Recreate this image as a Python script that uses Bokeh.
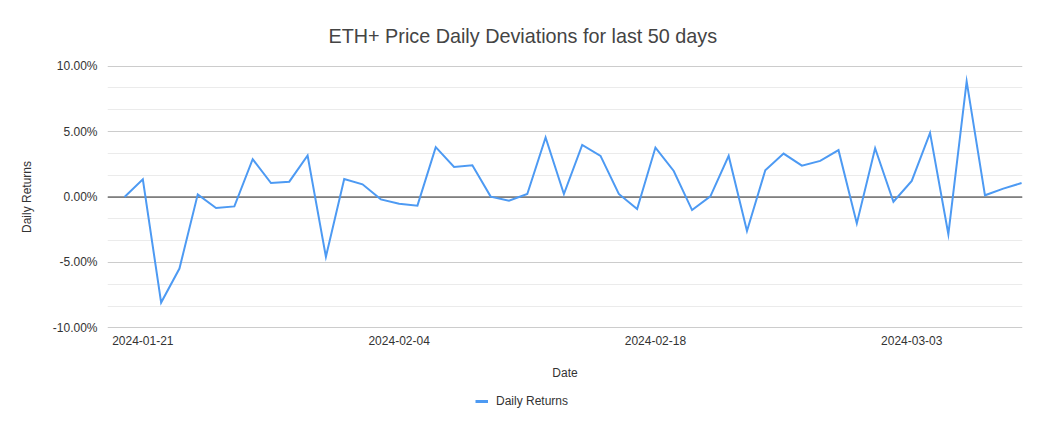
import pandas as pd
from bokeh.plotting import figure
from bokeh.layouts import column
from bokeh.models import (FixedTicker, DatetimeTickFormatter, PrintfTickFormatter, Span,
                          Legend, LegendItem, Range1d, ColumnDataSource)
from bokeh.embed import file_html
from bokeh.resources import INLINE

# ---------------- data ----------------
start_date = "2024-01-20"
returns_pct = [0.00, 1.35, -8.07, -5.47, 0.20, -0.84, -0.72, 2.89, 1.07, 1.17,
               3.17, -4.57, 1.38, 0.97, -0.18, -0.51, -0.66, 3.81, 2.30, 2.43,
               0.03, -0.28, 0.23, 4.55, 0.23, 3.98, 3.14, 0.23, -0.92, 3.78,
               1.99, -1.00, 0.05, 3.14, -2.60, 2.04, 3.32, 2.40, 2.76, 3.58,
               -2.02, 3.73, -0.36, 1.23, 4.90, -2.84, 8.84, 0.13, 0.64, 1.07]
x_tick_dates = ["2024-01-21", "2024-02-04", "2024-02-18", "2024-03-03"]
y_major_ticks = [-10, -5, 0, 5, 10]
title_text = "ETH+ Price Daily Deviations for last 50 days"
x_title = "Date"
y_title = "Daily Returns"
series_name = "Daily Returns"

dates = pd.date_range(start_date, periods=len(returns_pct), freq="D")
src = ColumnDataSource(dict(date=dates, ret=returns_pct))

# ---------------- layout ----------------
W = 1045
H1, H2 = 384, 45
BL, BR, BT = 107, 23, 65
FH = 263
BB = H1 - BT - FH
DAY = 86400000.0
ms0 = dates[0].value / 1e6
ms1 = dates[-1].value / 1e6
x_start = ms0 - 0.93 * DAY
x_end = ms1 + 0.05 * DAY
y_lo, y_hi = -10.05, 10.05

LINE_C = "#4d9af3"
FONT = "Liberation Sans"
TXT = "#333333"

p = figure(width=W, height=H1, x_axis_type="datetime", output_backend="svg",
           toolbar_location=None,
           x_range=Range1d(x_start, x_end), y_range=Range1d(y_lo, y_hi),
           min_border_left=BL, min_border_right=BR, min_border_top=BT, min_border_bottom=BB)
p.outline_line_color = None
p.background_fill_color = "white"
p.border_fill_color = "white"

# title
p.title.text = title_text
p.title.align = "left"
p.title.offset = 221
p.title.standoff = 38
p.title.text_font = FONT
p.title.text_font_size = "19.8px"
p.title.text_font_style = "normal"
p.title.text_color = "#444444"

# grid
minor = []
for a, b in zip(y_major_ticks[:-1], y_major_ticks[1:]):
    minor += [a + (b - a) / 3, a + 2 * (b - a) / 3]
yt = FixedTicker(ticks=y_major_ticks, minor_ticks=minor)
p.yaxis.ticker = yt
p.ygrid.ticker = yt
p.ygrid.grid_line_color = "#cccccc"
p.ygrid.grid_line_width = 1
p.ygrid.minor_grid_line_color = "#ebebeb"
p.ygrid.minor_grid_line_width = 1
p.xgrid.grid_line_color = None

xt = FixedTicker(ticks=[pd.Timestamp(d).value / 1e6 for d in x_tick_dates])
p.xaxis.ticker = xt
fmt = "%Y-%m-%d"
p.xaxis.formatter = DatetimeTickFormatter(days=fmt, months=fmt, years=fmt, hours=fmt,
                                          hourmin=fmt, minutes=fmt, seconds=fmt,
                                          milliseconds=fmt, microseconds=fmt)
p.yaxis.formatter = PrintfTickFormatter(format="%.2f%%")

for ax in (p.xaxis, p.yaxis):
    ax.axis_line_color = None
    ax.major_tick_line_color = None
    ax.minor_tick_line_color = None
    ax.major_tick_out = 0
    ax.major_tick_in = 0
    ax.minor_tick_out = 0
    ax.minor_tick_in = 0
    ax.major_label_text_font = FONT
    ax.major_label_text_font_size = "12px"
    ax.major_label_text_color = TXT
    ax.axis_label_text_font = FONT
    ax.axis_label_text_font_size = "12px"
    ax.axis_label_text_font_style = "normal"
    ax.axis_label_text_color = TXT
p.yaxis.major_label_standoff = 10
p.xaxis.major_label_standoff = 7
p.yaxis.axis_label = y_title
p.yaxis.axis_label_standoff = 16
p.xaxis.axis_label = x_title
p.xaxis.axis_label_standoff = 18

p.add_layout(Span(location=0, dimension="width", line_color="#333333", line_width=1,
                  level="underlay"))

r = p.line(x="date", y="ret", source=src, line_color=LINE_C, line_width=2,
           line_join="miter")

# ---------------- legend strip below the chart ----------------
p2 = figure(width=W, height=H2, output_backend="svg", toolbar_location=None,
            x_range=Range1d(0, W), y_range=Range1d(0, H2),
            min_border_left=0, min_border_right=0, min_border_top=0, min_border_bottom=0)
p2.axis.visible = False
p2.grid.visible = False
p2.outline_line_color = None
p2.background_fill_color = "white"
p2.border_fill_color = "white"
# same series; lies outside this strip's ranges, so only its legend entry shows
r2 = p2.line(x="date", y="ret", source=src, line_color=LINE_C, line_width=3)

legend = Legend(items=[LegendItem(label=series_name, renderers=[r2])],
                location=(368, 20), orientation="horizontal",
                glyph_width=13, glyph_height=16, label_standoff=8, padding=0, margin=0,
                spacing=0, border_line_color=None, background_fill_alpha=0,
                label_text_font=FONT, label_text_font_size="12px",
                label_text_color=TXT)
p2.add_layout(legend, "center")

layout = column(p, p2, spacing=0)
open("out.html", "w").write(file_html(layout, INLINE))
